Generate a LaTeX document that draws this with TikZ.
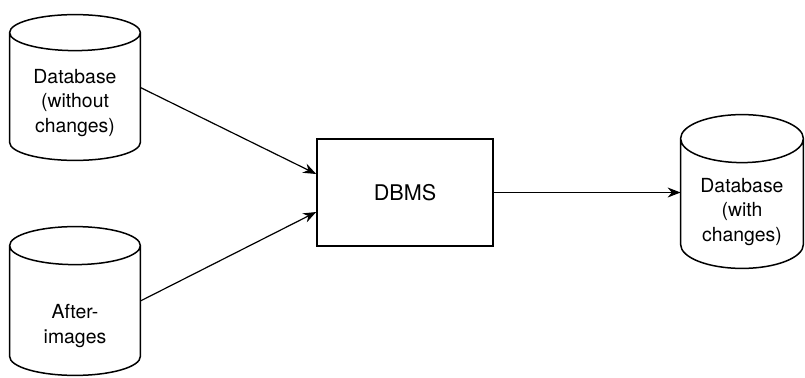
\documentclass[tikz,border=0pt]{standalone}
\usepackage{fontspec}
\setmainfont{TeX Gyre Heros}
\usepackage{tikz}
\usetikzlibrary{positioning,arrows.meta,calc}
\tikzset{
    every node/.style={font=\fontsize{9.7}{12.4}\selectfont},
    dbcyl/.style={rectangle,inner sep=0pt},
    cyltext/.style={align=center},
    cylline/.style={draw,line width=0.75pt},
    procbox/.style={rectangle,draw,line width=0.8pt,minimum width=88pt,minimum height=53.5pt,align=center,font=\fontsize{10.8}{13}\selectfont},
    flow/.style={->,>={Stealth[length=6.5pt,width=5pt]},line width=0.6pt}
}
\begin{document}
\begin{tikzpicture}[x=0.5pt,y=0.5pt]
    \useasboundingbox (0,0) rectangle (805,377);
    \node[dbcyl,minimum width=65pt,minimum height=72.5pt,
        label={[cyltext,yshift=-7.75pt]center:Database\\(without\\changes)}] (olddb) at (75,289.5) {};
    \node[dbcyl,minimum width=65pt,minimum height=74pt,
        label={[cyltext,yshift=-12.5pt]center:After-\\images}] (after) at (75,76) {};
    \node[procbox] (dbms) at (405,184.5) {DBMS};
    \node[dbcyl,minimum width=61pt,minimum height=76.5pt,
        label={[cyltext,yshift=-10.25pt]center:Database\\(with\\changes)}] (newdb) at (742,185.5) {};
    % cylinder outlines
    \foreach \c/\r in {olddb/9pt,after/9.5pt,newdb/12pt}
        \draw[cylline] let \p1=(\c.north west),\p2=(\c.south east),\n1={(\x2-\x1)/2} in
            (\x1+\n1,\y1-\r) ellipse [x radius=\n1,y radius=\r]
            (\x1,\y1-\r) -- (\x1,\y2+\r) arc [start angle=180,end angle=360,x radius=\n1,y radius=\r] -- (\x2,\y1-\r);
    \draw[flow] (olddb.east)--($(dbms.west)+(0,18.5)$);
    \draw[flow] (after.east)--($(dbms.west)+(0,-19.5)$);
    \draw[flow] (dbms.east)--(newdb.west|-dbms.east);
\end{tikzpicture}
\end{document}
